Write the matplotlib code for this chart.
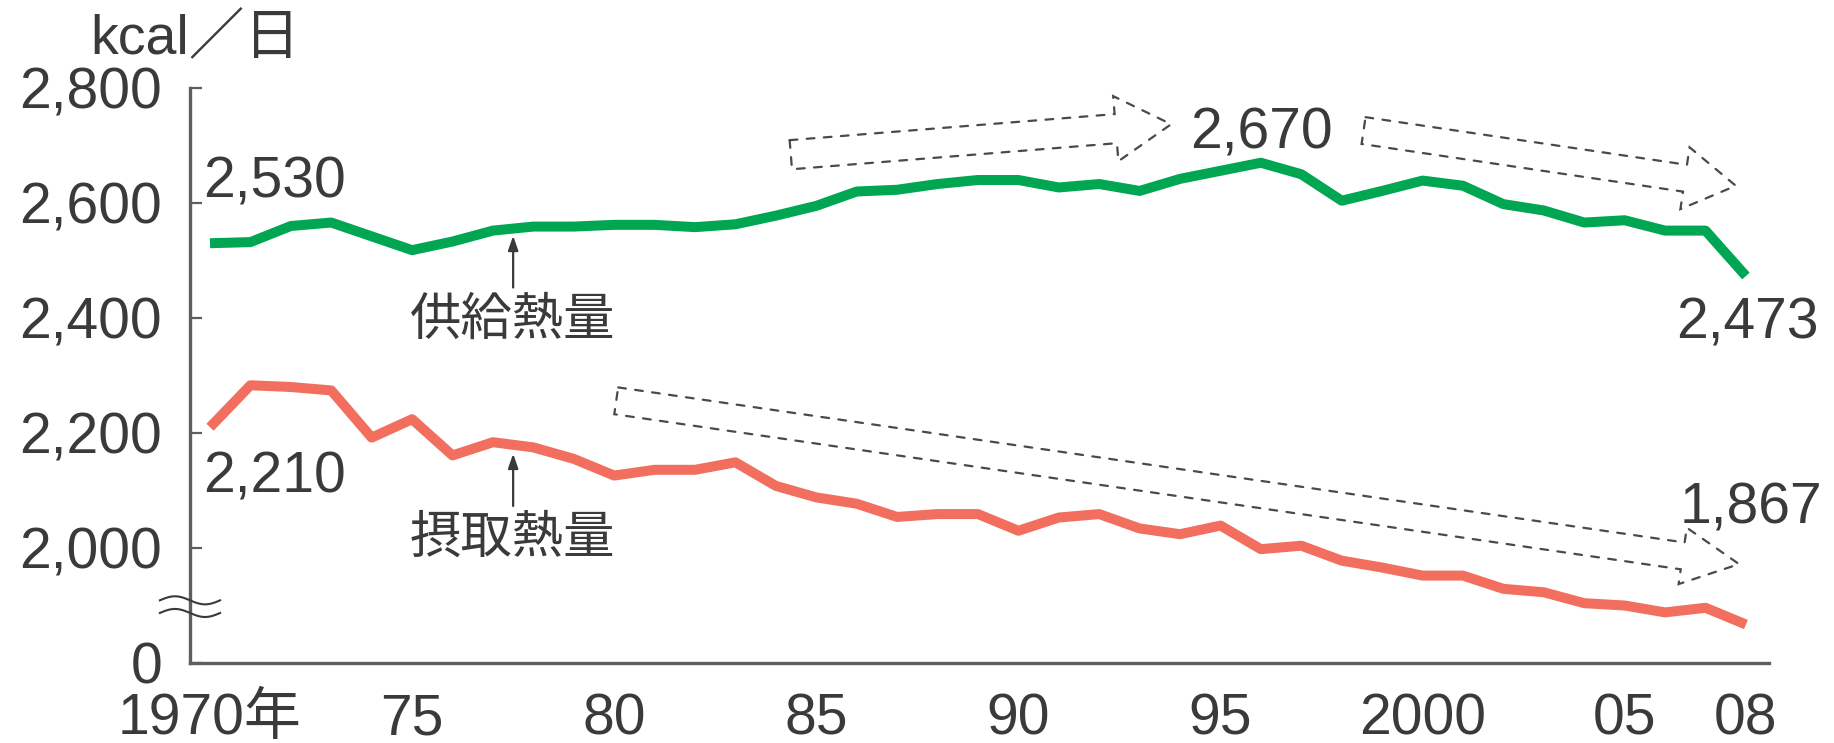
import numpy as np
import matplotlib
matplotlib.use("Agg")
import matplotlib.pyplot as plt
from matplotlib.patches import FancyArrowPatch

plt.rcParams['font.family'] = ['Liberation Sans', 'Noto Sans CJK JP']

# Per-capita daily energy, kcal (supply vs. actual intake)
years = list(range(1970, 2009))
supply_kcal = [2530, 2532, 2560, 2566, 2542, 2518, 2533, 2552, 2559, 2559,
               2562, 2562, 2558, 2563, 2578, 2595, 2620, 2623, 2633, 2640,
               2640, 2627, 2633, 2621, 2642, 2656, 2670, 2650, 2604, 2621,
               2639, 2630, 2598, 2587, 2566, 2570, 2552, 2552, 2473]
intake_kcal = [2210, 2283, 2280, 2274, 2192, 2224, 2161, 2184, 2175, 2155,
               2126, 2136, 2136, 2149, 2108, 2088, 2077, 2054, 2059, 2059,
               2030, 2053, 2059, 2034, 2024, 2039, 1998, 2004, 1978, 1966,
               1952, 1952, 1929, 1923, 1904, 1900, 1888, 1896, 1867]

x_ticks = [1970, 1975, 1980, 1985, 1990, 1995, 2000, 2005, 2008]
x_tick_labels = ['1970年', '75', '80', '85', '90', '95', '2000', '05', '08']
# the axis is broken: its floor stands in for zero
y_ticks = [1800, 2000, 2200, 2400, 2600, 2800]
y_tick_labels = ['0', '2,000', '2,200', '2,400', '2,600', '2,800']

GREEN = '#00a652'
RED = '#f26e5e'
INK = '#3a3a3a'
AXIS = '#5e5e5e'
DASH = '#4a4a4a'
FS = 41

fig = plt.figure(figsize=(18.34, 7.43), dpi=100)
ax = fig.add_axes([190 / 1834, 80 / 743, 1579 / 1834, 575 / 743])
ax.set_xlim(1969.505, 2008.571)
ax.set_ylim(1800, 2800)

ax.plot(years, supply_kcal, color=GREEN, lw=7.2, solid_capstyle='butt',
        solid_joinstyle='round', zorder=3)
ax.plot(years, intake_kcal, color=RED, lw=7.2, solid_capstyle='butt',
        solid_joinstyle='round', zorder=3)

for side in ('top', 'right'):
    ax.spines[side].set_visible(False)
for side in ('left', 'bottom'):
    ax.spines[side].set_color(AXIS)
    ax.spines[side].set_linewidth(2.4)

ax.set_xticks(x_ticks, x_tick_labels)
ax.set_yticks(y_ticks, y_tick_labels)
ax.tick_params(axis='y', direction='in', length=8.6, width=1.6, color=AXIS,
               pad=20, labelsize=FS, labelcolor=INK)
ax.tick_params(axis='x', length=0, pad=21, labelsize=FS, labelcolor=INK)

# break mark on the value axis
t = np.linspace(0, 1, 80)
bx = 1968.76 + t * (1970.25 - 1968.76)
for c in (1909, 1887):
    ax.plot(bx, c + 7 * np.sin(2 * np.pi * t), color=INK, lw=1.5,
            clip_on=False, zorder=4)

# dashed block arrows showing the trends
def trend_arrow(tail, tip, tail_w, head_w, head_l):
    style = f"simple,tail_width={tail_w},head_width={head_w},head_length={head_l}"
    p = FancyArrowPatch(tail, tip, arrowstyle=style, mutation_scale=1,
                        shrinkA=0, shrinkB=0, facecolor='none',
                        edgecolor=DASH, linewidth=1.6,
                        linestyle=(0, (3.5, 4.2)), joinstyle='miter', zorder=2)
    ax.add_patch(p)

trend_arrow((1984.37, 2684), (1993.78, 2737), 21, 47, 40)
trend_arrow((1998.54, 2726), (2007.75, 2630), 19.5, 45, 37)
trend_arrow((1980.05, 2256), (2007.83, 1972), 19.5, 41, 41)

# value callouts
ax.text(1969.83, 2609, '2,530', fontsize=FS, color=INK, ha='left', va='baseline')
ax.text(1969.83, 2096, '2,210', fontsize=FS, color=INK, ha='left', va='baseline')
ax.text(1994.25, 2694, '2,670', fontsize=FS, color=INK, ha='left', va='baseline')
ax.text(2006.27, 2364, '2,473', fontsize=FS, color=INK, ha='left', va='baseline')
ax.text(2006.37, 2042, '1,867', fontsize=FS, color=INK, ha='left', va='baseline')

# series labels with pointer arrows
ax.text(1977.48, 2395, '供給熱量', fontsize=37, color=INK, ha='center', va='center')
ax.text(1977.48, 2015, '摂取熱量', fontsize=37, color=INK, ha='center', va='center')
for y0, y1 in ((2453, 2543), (2073, 2164)):
    ax.annotate('', xy=(1977.5, y1), xytext=(1977.5, y0),
                arrowprops=dict(arrowstyle='-|>,head_length=0.43,head_width=0.15',
                                color=INK, lw=1.6, shrinkA=0, shrinkB=0,
                                mutation_scale=20))

fig.text(90 / 1834, 1 - 53 / 743, 'kcal／日', fontsize=40, color=INK,
         ha='left', va='baseline')

fig.savefig('out.png', dpi=100, facecolor='white')
